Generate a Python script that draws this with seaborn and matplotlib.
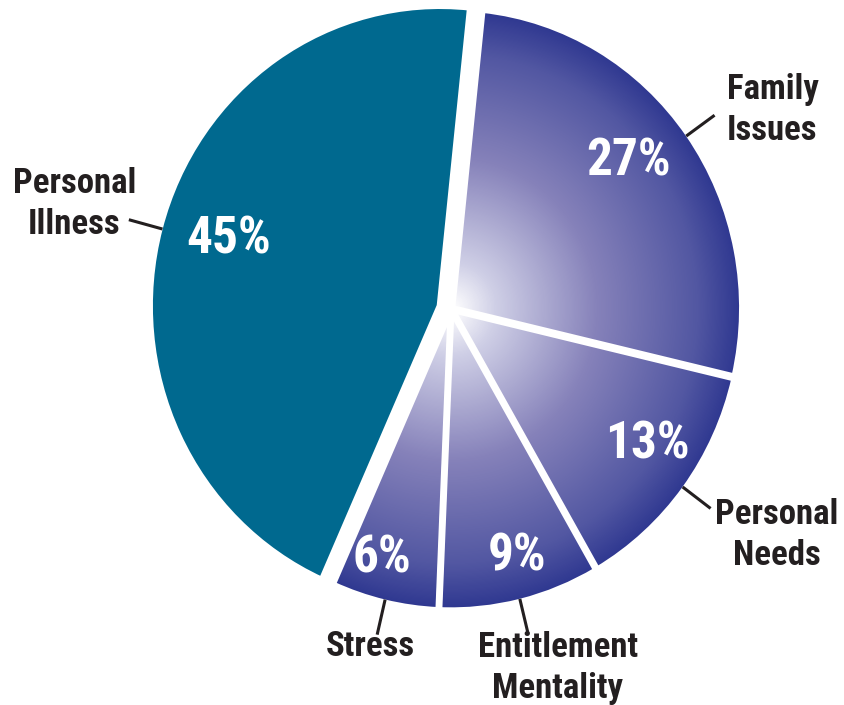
import numpy as np
import matplotlib
matplotlib.use("Agg")
import matplotlib.pyplot as plt
import matplotlib.colors as mcolors
from matplotlib import font_manager as fm
import seaborn as sns

# Dados
categories = ["Family\nIssues", "Personal\nNeeds", "Entitlement\nMentality", "Stress", "Personal\nIllness"]
shares     = [27, 13, 9, 6, 45]
gradient   = [True, True, True, True, False]

sns.set_theme(style="white")
installed = {f.name for f in fm.fontManager.ttflist}
candidates = ["Roboto Condensed", "Nimbus Sans Narrow", "Liberation Sans Narrow", "Archivo Narrow",
              "PT Sans Narrow", "Fira Sans Condensed", "Barlow Condensed", "Open Sans Condensed"]
cond = [c for c in candidates if c in installed][:1]
plt.rcParams["font.family"] = cond + ["DejaVu Sans"]

TEAL      = "#00698f"
DARK_BLUE = "#2e3790"
TEXT_COL  = "#231f20"

fig = plt.figure(figsize=(8.44, 7.05), dpi=100)
ax = fig.add_axes([0, 0, 1, 1])

# centro em px (451, 309); escala x 290 px, y 300 px
cx, cy, sx, sy = 451, 309, 290, 300
XLIM = (-cx / sx, (844 - cx) / sx)
YLIM = (-(705 - cy) / sy, cy / sy)

explode = [0.005, 0.005, 0.005, 0.005, 0.04]
wedges, _, pcts = ax.pie(
    shares, startangle=84, counterclock=False, explode=explode,
    colors=[TEAL] * len(shares), autopct="%.0f%%", pctdistance=0.81,
    wedgeprops=dict(edgecolor="white", linewidth=4.5),
    textprops=dict(color="white", fontsize=37, fontweight="bold"),
)

# gradiente radial (branco no centro -> azul escuro na borda)
n = 600
xx, yy = np.meshgrid(np.linspace(-1, 1, n), np.linspace(-1, 1, n))
rr = np.clip(np.hypot(xx, yy), 0, 1)
cmap = mcolors.LinearSegmentedColormap.from_list(
    "grad", [(0, "#ffffff"), (0.15, "#cfcfe6"), (0.5, "#8682ba"), (0.85, "#5257a2"), (1, DARK_BLUE)])
rgba = cmap(rr)

for w, g in zip(wedges, gradient):
    if not g:
        continue
    w.set_facecolor("none")
    w.set_zorder(3)
    ccx, ccy = w.center
    im = ax.imshow(rgba, extent=[ccx - 1, ccx + 1, ccy - 1, ccy + 1],
                   origin="lower", zorder=2, interpolation="bilinear")
    im.set_clip_path(w)

ax.set_xlim(*XLIM)
ax.set_ylim(*YLIM)
ax.set_aspect("auto")
ax.axis("off")

# ajuste fino da posição dos percentuais (raio, desvio angular)
pct_r   = [0.78, 0.81, 0.85, 0.86, 0.76]
pct_off = [3.5, 3.0, 1.7, -2.8, -2.0]
for w, t, r, off in zip(wedges, pcts, pct_r, pct_off):
    ang = np.deg2rad((w.theta1 + w.theta2) / 2 + off)
    ccx, ccy = w.center
    t.set_position((ccx + r * np.cos(ang), ccy + r * np.sin(ang)))
    t.set_zorder(5)

# rótulos com linhas de chamada
label_pos = {
    "Family\nIssues":         ((727 - cx) / sx, (cy - 110) / sy, "left", "left"),
    "Personal\nNeeds":        ((777 - cx) / sx, (cy - 535) / sy, "center", "center"),
    "Entitlement\nMentality": ((558 - cx) / sx, (cy - 668) / sy, "center", "center"),
    "Stress":                 ((370 - cx) / sx, (cy - 646) / sy, "center", "center"),
    "Personal\nIllness":      ((136 - cx) / sx, (cy - 204) / sy, "right", "center"),
}

for w, cat in zip(wedges, categories):
    ang = np.deg2rad((w.theta1 + w.theta2) / 2)
    ccx, ccy = w.center
    x0, y0 = ccx + 0.99 * np.cos(ang), ccy + 0.99 * np.sin(ang)
    x1, y1 = ccx + 1.11 * np.cos(ang), ccy + 1.11 * np.sin(ang)
    ax.plot([x0, x1], [y0, y1], color=TEXT_COL, lw=2.2, zorder=6, solid_capstyle="butt")
    tx, ty, ha, ma = label_pos[cat]
    ax.text(tx, ty, cat, ha=ha, va="center", fontsize=25, fontweight="bold",
            color=TEXT_COL, linespacing=1.3, multialignment=ma)

fig.savefig("out.png", dpi=100)
